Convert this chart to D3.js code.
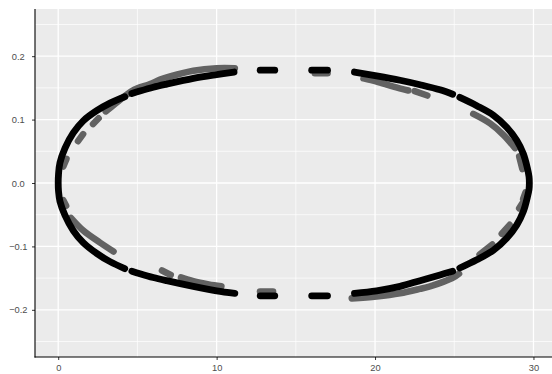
<!DOCTYPE html>
<html>
<head>
<meta charset="utf-8">
<script src="https://cdn.jsdelivr.net/npm/d3@7"></script>
<style>
  html, body { margin: 0; padding: 0; background: #ffffff; }
  svg { display: block; }
  text { font-family: "Liberation Sans", Arial, Helvetica, sans-serif; }
</style>
</head>
<body>
<svg id="chart" width="552" height="374"></svg>
<script>
// ---- data ----
const xTicks = [0, 10, 20, 30];
const xMinor = [5, 15, 25];
const yTicks = [-0.2, -0.1, 0.0, 0.1, 0.2];
const yTickLabels = ["\u22120.2", "\u22120.1", "0.0", "0.1", "0.2"];
const yMinor = [-0.25, -0.15, -0.05, 0.05, 0.15, 0.25];
const xDomain = [-1.465, 31.17];
const yDomain = [-0.2744, 0.2744];

// black series: runs of points along the outer ellipse (gaps between runs)
const blackLeftEnd = [[4.2,-0.135],[3.27,-0.124],[2.43,-0.111],[1.58,-0.094],[0.95,-0.075],[0.43,-0.051],[0.11,-0.029],[0.02,-0.013],[0,0],[0.02,0.014],[0.11,0.032],[0.43,0.055],[0.95,0.079],[1.58,0.098],[2.43,0.114],[3.27,0.126],[4.2,0.136]];
const blackTopLeft = [[4.65,0.141],[5.16,0.145],[6.0,0.151],[6.85,0.156],[8.53,0.165],[10.0,0.171],[11.1,0.175]];
const blackTopDash1 = [[12.75,0.178],[13.67,0.178]];
const blackTopDash2 = [[16.0,0.178],[17.0,0.178]];
const blackTopRight = [[18.7,0.175],[20.1,0.169],[21.58,0.162],[22.84,0.155],[24.1,0.147],[24.9,0.140]];
const blackRightEnd = [[25.35,0.135],[26.42,0.122],[27.47,0.107],[28.31,0.088],[28.95,0.067],[29.36,0.046],[29.61,0.024],[29.72,0.01],[29.74,0],[29.72,-0.01],[29.61,-0.023],[29.36,-0.045],[28.95,-0.066],[28.31,-0.087],[27.47,-0.106],[26.42,-0.121],[25.35,-0.134]];
const blackBottomRight = [[24.9,-0.139],[24.1,-0.145],[22.84,-0.154],[21.58,-0.163],[20.1,-0.170],[18.7,-0.174]];
const blackBottomDash2 = [[16.0,-0.178],[17.0,-0.178]];
const blackBottomDash1 = [[12.75,-0.178],[13.67,-0.178]];
const blackBottomLeft = [[11.15,-0.174],[10.0,-0.170],[8.53,-0.163],[6.85,-0.154],[6.0,-0.149],[5.16,-0.143],[4.65,-0.139]];

// grey series: runs of points along the perturbed ellipse
const greyTop1 = [[0.32,0.026],[0.52,0.038]];
const greyTop2 = [[1.25,0.066],[1.57,0.077]];
const greyTop3 = [[2.2,0.093],[2.55,0.102]];
const greyTop4 = [[3.0,0.113],[3.6,0.125],[4.2,0.137],[4.8,0.147],[5.8,0.156],[6.43,0.163],[7.06,0.168],[8.53,0.177],[10.0,0.181],[11.15,0.181]];
const greyTop5 = [[16.2,0.173],[17.0,0.173]];
const greyTop6 = [[19.27,0.165],[20.1,0.160],[21.16,0.152],[22.1,0.146]];
const greyTop7 = [[22.5,0.145],[23.3,0.138]];
const greyTop8 = [[26.2,0.109],[27.26,0.094],[28.1,0.076],[28.84,0.055]];
const greyTop9 = [[29.1,0.042],[29.3,0.022]];
const greyBot1 = [[0.32,-0.027],[0.5,-0.036]];
const greyBot2 = [[0.8,-0.055],[1.58,-0.075],[2.64,-0.094],[3.49,-0.108]];
const greyBot3 = [[6.55,-0.138],[7.1,-0.145]];
const greyBot4 = [[7.75,-0.149],[8.53,-0.155],[9.5,-0.160],[10.3,-0.163]];
const greyBot5 = [[12.74,-0.171],[13.56,-0.171]];
const greyBot6 = [[18.53,-0.182],[20.1,-0.179],[21.58,-0.174],[22.84,-0.167],[23.47,-0.163],[24.3,-0.156],[24.95,-0.149],[25.3,-0.143]];
const greyBot7 = [[26.6,-0.113],[27.4,-0.097]];
const greyBot8 = [[28.0,-0.080],[28.5,-0.066]];
const greyBot9 = [[29.1,-0.040],[29.3,-0.032]];
const greyBot10 = [[29.35,-0.025],[29.5,-0.015]];

const blackRuns = [blackLeftEnd, blackTopLeft, blackTopDash1, blackTopDash2, blackTopRight,
  blackRightEnd, blackBottomRight, blackBottomDash2, blackBottomDash1, blackBottomLeft];
const greyRuns = [greyTop1, greyTop2, greyTop3, greyTop4, greyTop5, greyTop6, greyTop7, greyTop8, greyTop9,
  greyBot1, greyBot2, greyBot3, greyBot4, greyBot5, greyBot6, greyBot7, greyBot8, greyBot9, greyBot10];

// ---- layout ----
const panel = { left: 35, right: 552, top: 9, bottom: 357 };
const svg = d3.select("#chart");

const x = d3.scaleLinear().domain(xDomain).range([panel.left, panel.right]);
const y = d3.scaleLinear().domain(yDomain).range([panel.bottom, panel.top]);

// panel background
svg.append("rect")
  .attr("x", panel.left).attr("y", panel.top)
  .attr("width", panel.right - panel.left).attr("height", panel.bottom - panel.top)
  .attr("fill", "#ebebeb");

const grid = svg.append("g");
grid.selectAll("line.xminor").data(xMinor).join("line")
  .attr("x1", d => x(d)).attr("x2", d => x(d))
  .attr("y1", panel.top).attr("y2", panel.bottom)
  .attr("stroke", "#ffffff").attr("stroke-width", 0.7);
grid.selectAll("line.yminor").data(yMinor).join("line")
  .attr("y1", d => y(d)).attr("y2", d => y(d))
  .attr("x1", panel.left).attr("x2", panel.right)
  .attr("stroke", "#ffffff").attr("stroke-width", 0.7);
grid.selectAll("line.xmajor").data(xTicks).join("line")
  .attr("x1", d => x(d)).attr("x2", d => x(d))
  .attr("y1", panel.top).attr("y2", panel.bottom)
  .attr("stroke", "#ffffff").attr("stroke-width", 1.3);
grid.selectAll("line.ymajor").data(yTicks).join("line")
  .attr("y1", d => y(d)).attr("y2", d => y(d))
  .attr("x1", panel.left).attr("x2", panel.right)
  .attr("stroke", "#ffffff").attr("stroke-width", 1.3);

// point runs
const line = d3.line().x(d => x(d[0])).y(d => y(d[1])).curve(d3.curveCatmullRom.alpha(0.5));
const marks = svg.append("g");
marks.selectAll("path.grey").data(greyRuns).join("path")
  .attr("class", "grey")
  .attr("d", line)
  .attr("fill", "none").attr("stroke", "#626262").attr("stroke-width", 6.6)
  .attr("stroke-linecap", "round").attr("stroke-linejoin", "round");
marks.selectAll("path.black").data(blackRuns).join("path")
  .attr("class", "black")
  .attr("d", line)
  .attr("fill", "none").attr("stroke", "#000000").attr("stroke-width", 6.8)
  .attr("stroke-linecap", "round").attr("stroke-linejoin", "round");

// axes
const xAxis = d3.axisBottom(x).tickValues(xTicks).tickSize(3).tickPadding(4).tickFormat(d3.format("d"));
const gx = svg.append("g").attr("transform", `translate(0,${panel.bottom})`).call(xAxis);
gx.select(".domain").remove();
gx.selectAll(".tick line").attr("stroke", "#333333").attr("stroke-width", 1);
gx.selectAll(".tick text").attr("fill", "#4d4d4d").attr("font-size", 9.3)
  .attr("font-family", "Liberation Sans, Arial, sans-serif");

const yAxis = d3.axisLeft(y).tickValues(yTicks).tickSize(3)
  .tickFormat((d, i) => yTickLabels[i]);
const gy = svg.append("g").attr("transform", `translate(${panel.left},0)`).call(yAxis);
gy.select(".domain").remove();
gy.selectAll(".tick line").attr("stroke", "#333333").attr("stroke-width", 1);
gy.selectAll(".tick text").attr("fill", "#4d4d4d").attr("font-size", 9.3)
  .attr("font-family", "Liberation Sans, Arial, sans-serif")
  .attr("text-anchor", "middle").attr("x", 18.3 - panel.left).attr("dy", "0.33em");

// axis lines
svg.append("line").attr("x1", panel.left).attr("x2", panel.left)
  .attr("y1", panel.top).attr("y2", panel.bottom + 0.5)
  .attr("stroke", "#000000").attr("stroke-width", 1.1);
svg.append("line").attr("x1", panel.left - 0.5).attr("x2", panel.right)
  .attr("y1", panel.bottom).attr("y2", panel.bottom)
  .attr("stroke", "#000000").attr("stroke-width", 1.1);
</script>
</body>
</html>
